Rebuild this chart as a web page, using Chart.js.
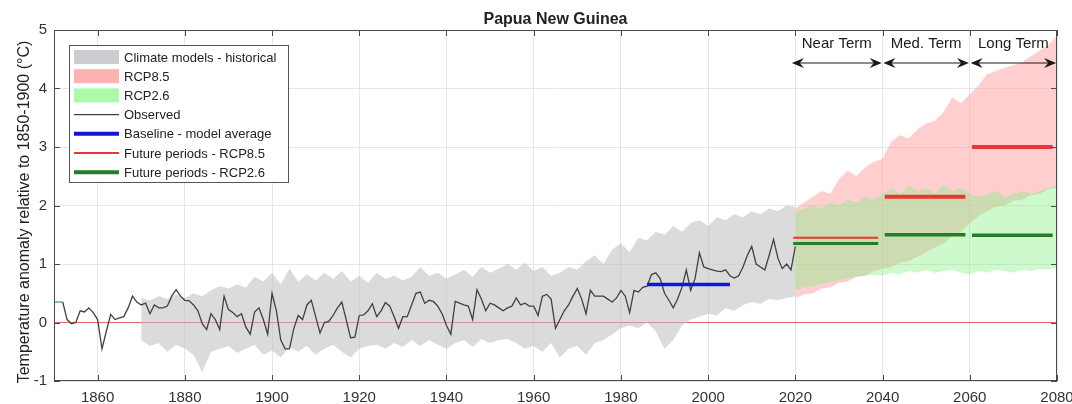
<!DOCTYPE html>
<html>
<head>
<meta charset="utf-8">
<title>Papua New Guinea</title>
<script src="https://cdn.jsdelivr.net/npm/chart.js@4.4.1/dist/chart.umd.min.js"></script>
<style>
    body { margin: 0; background: #fff; }
</style>
</head>
<body>
<canvas id="chart" width="1072" height="404"></canvas>
<script>
// Observed annual anomaly, one value per year from 1850
const observedStart = 1850;
const observed = [
    0.35, 0.35, 0.35, 0.05, -0.02, 0.00, 0.20, 0.18, 0.25, 0.17,
    0.05, -0.45, -0.15, 0.14, 0.05, 0.08, 0.10, 0.25, 0.45, 0.35,
    0.30, 0.33, 0.15, 0.30, 0.25, 0.25, 0.28, 0.45, 0.56, 0.45,
    0.38, 0.37, 0.30, 0.20, -0.02, -0.12, 0.15, 0.05, -0.12, 0.45,
    0.22, 0.17, 0.10, 0.15, -0.08, -0.20, 0.18, 0.25, 0.05, -0.20,
    0.50, 0.20, -0.30, -0.45, -0.45, -0.10, 0.12, 0.05, 0.30, 0.38,
    0.10, -0.18, 0.00, 0.02, 0.12, 0.25, 0.35, 0.05, -0.26, -0.25,
    0.12, 0.13, 0.20, 0.32, 0.10, 0.20, 0.34, 0.28, 0.10, -0.10,
    0.10, 0.10, 0.30, 0.50, 0.52, 0.33, 0.38, 0.36, 0.28, 0.15,
    -0.05, -0.20, 0.36, 0.33, 0.30, 0.28, 0.05, 0.56, 0.40, 0.20,
    0.33, 0.30, 0.25, 0.20, 0.25, 0.28, 0.42, 0.30, 0.33, 0.28,
    0.28, 0.12, 0.45, 0.48, 0.40, -0.10, 0.05, 0.20, 0.30, 0.45,
    0.58, 0.40, 0.15, 0.55, 0.45, 0.45, 0.45, 0.40, 0.35, 0.42,
    0.55, 0.45, 0.17, 0.55, 0.52, 0.60, 0.62, 0.82, 0.85, 0.75,
    0.50, 0.38, 0.25, 0.40, 0.60, 0.90, 0.55, 0.75, 1.19, 0.95,
    0.92, 0.90, 0.88, 0.87, 0.90, 0.80, 0.76, 0.80, 0.95, 1.15,
    1.30, 1.00, 0.95, 0.90, 1.15, 1.42, 1.10, 0.92, 1.00, 0.90,
    1.30
];

// Climate models - historical range, every 2 years from 1870
const histStart = 1870;
const histStep = 2;
const histUpper = [
    0.42, 0.38, 0.45, 0.40, 0.48, 0.42, 0.50, 0.45, 0.55, 0.62,
    0.58, 0.65, 0.60, 0.78, 0.70, 0.85, 0.65, 0.92, 0.70, 0.82,
    0.72, 0.85, 0.75, 0.88, 0.70, 0.80, 0.68, 0.85, 0.75, 0.80,
    0.72, 0.78, 0.95, 0.80, 0.85, 0.75, 0.82, 0.90, 0.78, 0.95,
    0.85, 0.92, 1.00, 0.90, 1.02, 0.88, 0.95, 0.80, 0.85, 0.95,
    0.90, 1.05, 1.15, 1.00, 1.25, 1.35, 1.20, 1.45, 1.40, 1.55,
    1.50, 1.65, 1.55, 1.70, 1.75, 1.65, 1.80, 1.75, 1.85, 1.80,
    1.90, 1.85, 1.95, 1.90, 2.00, 1.98
];
const histLower = [
    -0.30, -0.40, -0.35, -0.50, -0.38, -0.45, -0.55, -0.85, -0.50, -0.45,
    -0.40, -0.52, -0.45, -0.38, -0.55, -0.48, -0.60, -0.42, -0.50, -0.40,
    -0.55, -0.45, -0.38, -0.50, -0.60, -0.45, -0.40, -0.38, -0.45, -0.35,
    -0.42, -0.30, -0.40, -0.30, -0.38, -0.45, -0.35, -0.30, -0.42, -0.28,
    -0.35, -0.30, -0.28, -0.35, -0.45, -0.40, -0.50, -0.35, -0.60, -0.45,
    -0.40, -0.55, -0.35, -0.30, -0.20, -0.10, -0.05, -0.10, 0.00, -0.15,
    -0.45, -0.30, -0.05, 0.05, 0.10, 0.15, 0.12, 0.25, 0.20, 0.30,
    0.35, 0.32, 0.40, 0.38, 0.42, 0.45
];

// Projected ranges, every 2 years from 2020
const futureStart = 2020;
const futureStep = 2;
const rcp85Upper = [
    1.95, 2.05, 2.15, 2.25, 2.20, 2.45, 2.60, 2.50, 2.65, 2.75,
    2.80, 3.10, 3.20, 3.15, 3.30, 3.40, 3.45, 3.60, 3.85, 3.75,
    3.90, 4.05, 4.25, 4.30, 4.35, 4.40, 4.45, 4.55, 4.65, 4.75, 4.90
];
const rcp85Lower = [
    0.42, 0.48, 0.50, 0.58, 0.60, 0.68, 0.70, 0.78, 0.80, 0.88,
    0.92, 0.95, 1.02, 1.05, 1.12, 1.20, 1.28, 1.35, 1.48, 1.55,
    1.70, 1.82, 1.90, 1.98, 2.00, 2.08, 2.10, 2.18, 2.20, 2.28, 2.30
];
const rcp26Upper = [
    1.90, 1.95, 2.00, 1.95, 2.05, 2.00, 2.10, 2.05, 2.15, 2.10,
    2.20, 2.30, 2.20, 2.35, 2.25, 2.30, 2.20, 2.35, 2.25, 2.30,
    2.20, 2.15, 2.20, 2.25, 2.15, 2.20, 2.25, 2.20, 2.25, 2.30, 2.35
];
const rcp26Lower = [
    0.55, 0.60, 0.62, 0.65, 0.70, 0.72, 0.75, 0.78, 0.80, 0.82,
    0.80, 0.85, 0.82, 0.88, 0.85, 0.90, 0.85, 0.88, 0.90, 0.85,
    0.82, 0.88, 0.85, 0.90, 0.88, 0.85, 0.90, 0.88, 0.92, 0.90, 0.95
];

// Baseline and future period averages
const baselineYears = [1986, 2005];
const baselineMean = 0.65;
const periodNames = ['Near Term', 'Med. Term', 'Long Term'];
const periodStart = [2019.5, 2040.5, 2060.5];
const periodEnd = [2039, 2059, 2079];
const rcp85Means = [1.45, 2.15, 3.0];
const rcp26Means = [1.35, 1.5, 1.49];

// Axes
const xRange = [1850, 2080];
const yRange = [-1, 5];
const xTicks = [1860, 1880, 1900, 1920, 1940, 1960, 1980, 2000, 2020, 2040, 2060, 2080];
const yTicks = [-1, 0, 1, 2, 3, 4, 5];

const FONT = 'Liberation Sans, Arial, Helvetica, sans-serif';
Chart.defaults.font.family = FONT;

// Turn a start year, step and values into {x, y} points
function toPoints(start, step, values) {
    return values.map((v, i) => ({ x: start + i * step, y: v }));
}

function flatLine(x0, x1, value) {
    return [{ x: x0, y: value }, { x: x1, y: value }];
}

const legendItems = [
    { label: 'Climate models - historical', box: 'rgb(204,204,208)' },
    { label: 'RCP8.5', box: 'rgb(255,178,178)' },
    { label: 'RCP2.6', box: 'rgb(170,250,170)' },
    { label: 'Observed', line: '#404040', width: 1.2 },
    { label: 'Baseline - model average', line: '#1414d8', width: 4 },
    { label: 'Future periods - RCP8.5', line: '#ee3535', width: 2 },
    { label: 'Future periods - RCP2.6', line: '#257d25', width: 4 }
];

// Box, inward ticks, title and y label
const framePlugin = {
    id: 'frame',
    afterDatasetsDraw(chart) {
        const { ctx, chartArea: a, scales: { x, y } } = chart;
        ctx.save();
        ctx.strokeStyle = '#4a4a4a';
        ctx.lineWidth = 1;
        ctx.strokeRect(a.left + 0.5, a.top + 0.5, a.width - 1, a.height - 1);
        ctx.beginPath();
        xTicks.forEach(v => {
            const px = Math.round(x.getPixelForValue(v)) + 0.5;
            ctx.moveTo(px, a.bottom); ctx.lineTo(px, a.bottom - 6);
            ctx.moveTo(px, a.top); ctx.lineTo(px, a.top + 6);
        });
        yTicks.forEach(v => {
            const py = Math.round(y.getPixelForValue(v)) + 0.5;
            ctx.moveTo(a.left, py); ctx.lineTo(a.left + 6, py);
            ctx.moveTo(a.right, py); ctx.lineTo(a.right - 6, py);
        });
        ctx.stroke();

        ctx.fillStyle = '#222';
        ctx.textAlign = 'center';
        ctx.textBaseline = 'middle';
        ctx.font = 'bold 16px ' + FONT;
        ctx.fillText('Papua New Guinea', (a.left + a.right) / 2, 20);

        ctx.translate(25, 212);
        ctx.rotate(-Math.PI / 2);
        ctx.font = '16px ' + FONT;
        ctx.fillText('Temperature anomaly relative to 1850-1900 (\u00B0C)', 0, 0);
        ctx.restore();
    }
};

function drawArrowHead(ctx, x, y, dir) {
    ctx.beginPath();
    ctx.moveTo(x, y);
    ctx.lineTo(x - dir * 12, y - 5);
    ctx.lineTo(x - dir * 8, y);
    ctx.lineTo(x - dir * 12, y + 5);
    ctx.closePath();
    ctx.fill();
}

// Period labels with double arrows
const periodPlugin = {
    id: 'periods',
    afterDraw(chart) {
        const { ctx, chartArea: a, scales: { x } } = chart;
        ctx.save();
        ctx.fillStyle = '#1a1a1a';
        ctx.strokeStyle = '#1a1a1a';
        ctx.lineWidth = 1;
        ctx.font = '15px ' + FONT;
        ctx.textAlign = 'center';
        ctx.textBaseline = 'middle';
        const ay = a.top + 33;
        periodNames.forEach((name, i) => {
            const x0 = x.getPixelForValue(periodStart[i] - 0.3);
            const x1 = Math.min(x.getPixelForValue(periodEnd[i] + 0.8), a.right);
            ctx.fillText(name, (x0 + x1) / 2, a.top + 14);
            ctx.beginPath();
            ctx.moveTo(x0 + 2, ay);
            ctx.lineTo(x1 - 2, ay);
            ctx.stroke();
            drawArrowHead(ctx, x0, ay, -1);
            drawArrowHead(ctx, x1, ay, 1);
        });
        ctx.restore();
    }
};

// Legend box inside the plot, top left
const legendPlugin = {
    id: 'boxLegend',
    afterDraw(chart) {
        const { ctx, chartArea: a } = chart;
        const x0 = a.left + 15, y0 = a.top + 15;
        const w = 219, h = 137, row = 19.2;
        ctx.save();
        ctx.fillStyle = '#fff';
        ctx.fillRect(x0, y0, w, h);
        ctx.strokeStyle = '#555';
        ctx.lineWidth = 1;
        ctx.strokeRect(x0 + 0.5, y0 + 0.5, w, h);
        ctx.font = '13px ' + FONT;
        ctx.textBaseline = 'middle';
        ctx.textAlign = 'left';
        legendItems.forEach((item, i) => {
            const cy = y0 + 12 + i * row;
            if (item.box) {
                ctx.fillStyle = item.box;
                ctx.fillRect(x0 + 5, cy - 7, 45, 14);
            } else {
                ctx.strokeStyle = item.line;
                ctx.lineWidth = item.width;
                ctx.beginPath();
                ctx.moveTo(x0 + 5, cy);
                ctx.lineTo(x0 + 50, cy);
                ctx.stroke();
            }
            ctx.fillStyle = '#222';
            ctx.fillText(item.label, x0 + 55, cy + 1);
        });
        ctx.restore();
    }
};

function buildDatasets() {
    const line = (data, color, width, order) => ({
        data, borderColor: color, borderWidth: width, fill: false, order
    });
    const bandEdge = (data, order) => ({ data, borderWidth: 0, fill: false, order });
    const bandFill = (data, color, order) => ({
        data, borderWidth: 0, fill: '-1', backgroundColor: color, order
    });

    const sets = [
        line(flatLine(xRange[0], xRange[1], 0), 'rgba(228,80,80,0.85)', 1, 20),
        bandEdge(toPoints(histStart, histStep, histLower), 19),
        bandFill(toPoints(histStart, histStep, histUpper), 'rgba(190,190,190,0.55)', 19),
        bandEdge(toPoints(futureStart, futureStep, rcp85Lower), 18),
        bandFill(toPoints(futureStart, futureStep, rcp85Upper), 'rgba(255,160,160,0.5)', 18),
        bandEdge(toPoints(futureStart, futureStep, rcp26Lower), 17),
        bandFill(toPoints(futureStart, futureStep, rcp26Upper), 'rgba(130,240,130,0.4)', 17),
        {
            data: toPoints(observedStart, 1, observed),
            borderColor: '#404040',
            borderWidth: 1.3,
            fill: false,
            order: 10,
            segment: {
                borderColor: ctx => (ctx.p1.parsed.x <= 1852 ? '#4f9a74' : undefined)
            }
        },
        line(flatLine(baselineYears[0], baselineYears[1], baselineMean), '#1414d8', 3.5, 5)
    ];

    periodNames.forEach((name, i) => {
        sets.push(line(flatLine(periodStart[i], periodEnd[i], rcp85Means[i]), '#ee3535', i === 0 ? 2 : 4, 4));
        sets.push(line(flatLine(periodStart[i], periodEnd[i], rcp26Means[i]), '#257d25', i === 0 ? 3 : 3.5, 3));
    });
    return sets;
}

new Chart(document.getElementById('chart'), {
    type: 'line',
    data: { datasets: buildDatasets() },
    options: {
        responsive: false,
        animation: false,
        parsing: true,
        layout: { padding: { top: 30, right: 15, bottom: 0, left: 0 } },
        elements: {
            point: { radius: 0, hoverRadius: 0 },
            line: { tension: 0 }
        },
        plugins: {
            legend: { display: false },
            tooltip: { enabled: false }
        },
        scales: {
            x: {
                type: 'linear',
                min: xRange[0],
                max: xRange[1],
                afterBuildTicks: s => { s.ticks = xTicks.map(v => ({ value: v })); },
                afterFit: s => { s.height = 23; s.paddingLeft = 0; s.paddingRight = 0; },
                ticks: {
                    callback: v => String(v),
                    font: { size: 15 },
                    color: '#333',
                    padding: 8,
                    maxRotation: 0,
                    autoSkip: false
                },
                grid: { color: '#e6e6e6', drawTicks: false },
                border: { display: false }
            },
            y: {
                min: yRange[0],
                max: yRange[1],
                afterBuildTicks: s => { s.ticks = yTicks.map(v => ({ value: v })); },
                afterFit: s => { s.width = 54; s.paddingTop = 0; s.paddingBottom = 0; },
                ticks: {
                    callback: v => String(v),
                    font: { size: 15 },
                    color: '#333',
                    padding: 7
                },
                grid: { color: '#e6e6e6', drawTicks: false },
                border: { display: false }
            }
        }
    },
    plugins: [framePlugin, periodPlugin, legendPlugin]
});
</script>
</body>
</html>
